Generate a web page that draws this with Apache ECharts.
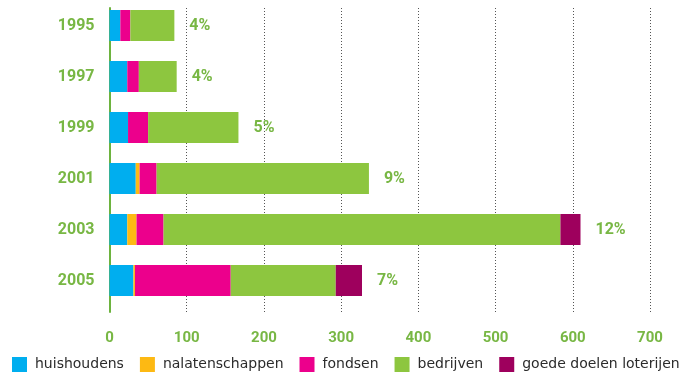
<!DOCTYPE html>
<html>
<head>
<meta charset="utf-8">
<script src="https://cdn.jsdelivr.net/npm/echarts@6/dist/echarts.min.js"></script>
<style>
  html, body { margin: 0; padding: 0; background: #ffffff; }
  #chart { width: 683px; height: 375px; }
</style>
</head>
<body>
<div id="chart"></div>
<script>
// Years shown on the category axis (top to bottom)
const years = ['1995', '1997', '1999', '2001', '2003', '2005'];

// Contributions per source
const huishoudens = [14, 23, 24, 34, 23, 31];
const nalatenschappen = [0, 0, 0, 5, 12, 2];
const fondsen = [13, 15, 26, 22, 35, 124];
const bedrijven = [57, 49, 117, 275, 514, 136];
const loterijen = [0, 0, 0, 0, 26, 34];

// Share label printed after each bar
const shares = ['4%', '4%', '5%', '9%', '12%', '7%'];

// Value-axis ticks
const xTicks = [0, 100, 200, 300, 400, 500, 600, 700];

const GREEN_TEXT = '#78b744';

const chart = echarts.init(document.getElementById('chart'), null, { renderer: 'canvas' });

function barSeries(name, data, color, extra) {
  return Object.assign({
    name: name,
    type: 'bar',
    stack: 'total',
    xAxisIndex: 1,
    yAxisIndex: 1,
    barWidth: 31,
    data: data,
    itemStyle: { color: color },
    emphasis: { disabled: true }
  }, extra || {});
}

chart.setOption({
  animation: false,
  grid: [
    // frame: gridlines, tick labels and the green baseline
    { left: 109.5, right: 33, top: 8, bottom: 63 },
    // bars
    { left: 109.5, right: 33, top: -1, height: 307 }
  ],
  legend: {
    left: 12,
    top: 357,
    width: 680,
    padding: 0,
    itemWidth: 15,
    itemHeight: 15,
    itemGap: 16,
    icon: 'rect',
    selectedMode: false,
    textStyle: {
      fontFamily: 'DejaVu Sans',
      fontSize: 14,
      color: '#2b2b2b',
      padding: [0, 0, 0, 3]
    },
    data: ['huishoudens', 'nalatenschappen', 'fondsen', 'bedrijven', 'goede doelen loterijen']
  },
  xAxis: [
    {
      gridIndex: 0,
      type: 'value',
      min: xTicks[0],
      max: xTicks[xTicks.length - 1],
      interval: xTicks[1] - xTicks[0],
      axisLine: { show: false },
      axisTick: { show: false },
      axisLabel: {
        margin: 19,
        fontFamily: 'Roboto',
        fontWeight: 'bold',
        fontSize: 15,
        color: GREEN_TEXT
      },
      splitLine: {
        show: true,
        lineStyle: { color: '#555', width: 1, type: [1, 2] }
      }
    },
    {
      gridIndex: 1,
      type: 'value',
      min: xTicks[0],
      max: xTicks[xTicks.length - 1],
      show: false
    }
  ],
  yAxis: [
    {
      gridIndex: 0,
      type: 'value',
      axisLine: { show: true, lineStyle: { color: '#6db33f', width: 2 } },
      axisTick: { show: false },
      axisLabel: { show: false },
      splitLine: { show: false }
    },
    {
      gridIndex: 1,
      type: 'category',
      inverse: true,
      data: years,
      axisLine: { show: false },
      axisTick: { show: false },
      axisLabel: {
        margin: 15,
        fontFamily: 'Roboto',
        fontWeight: 'bold',
        fontSize: 16,
        color: GREEN_TEXT
      }
    }
  ],
  series: [
    barSeries('huishoudens', huishoudens, '#00aeef'),
    barSeries('nalatenschappen', nalatenschappen, '#fdb913'),
    barSeries('fondsen', fondsen, '#ec008c'),
    barSeries('bedrijven', bedrijven, '#8dc63f'),
    barSeries('goede doelen loterijen', loterijen, '#9e005d', {
      label: {
        show: true,
        position: 'right',
        distance: 15,
        fontFamily: 'Roboto',
        fontWeight: 'bold',
        fontSize: 16,
        color: GREEN_TEXT,
        formatter: function (p) { return shares[p.dataIndex]; }
      }
    })
  ]
});
</script>
</body>
</html>
